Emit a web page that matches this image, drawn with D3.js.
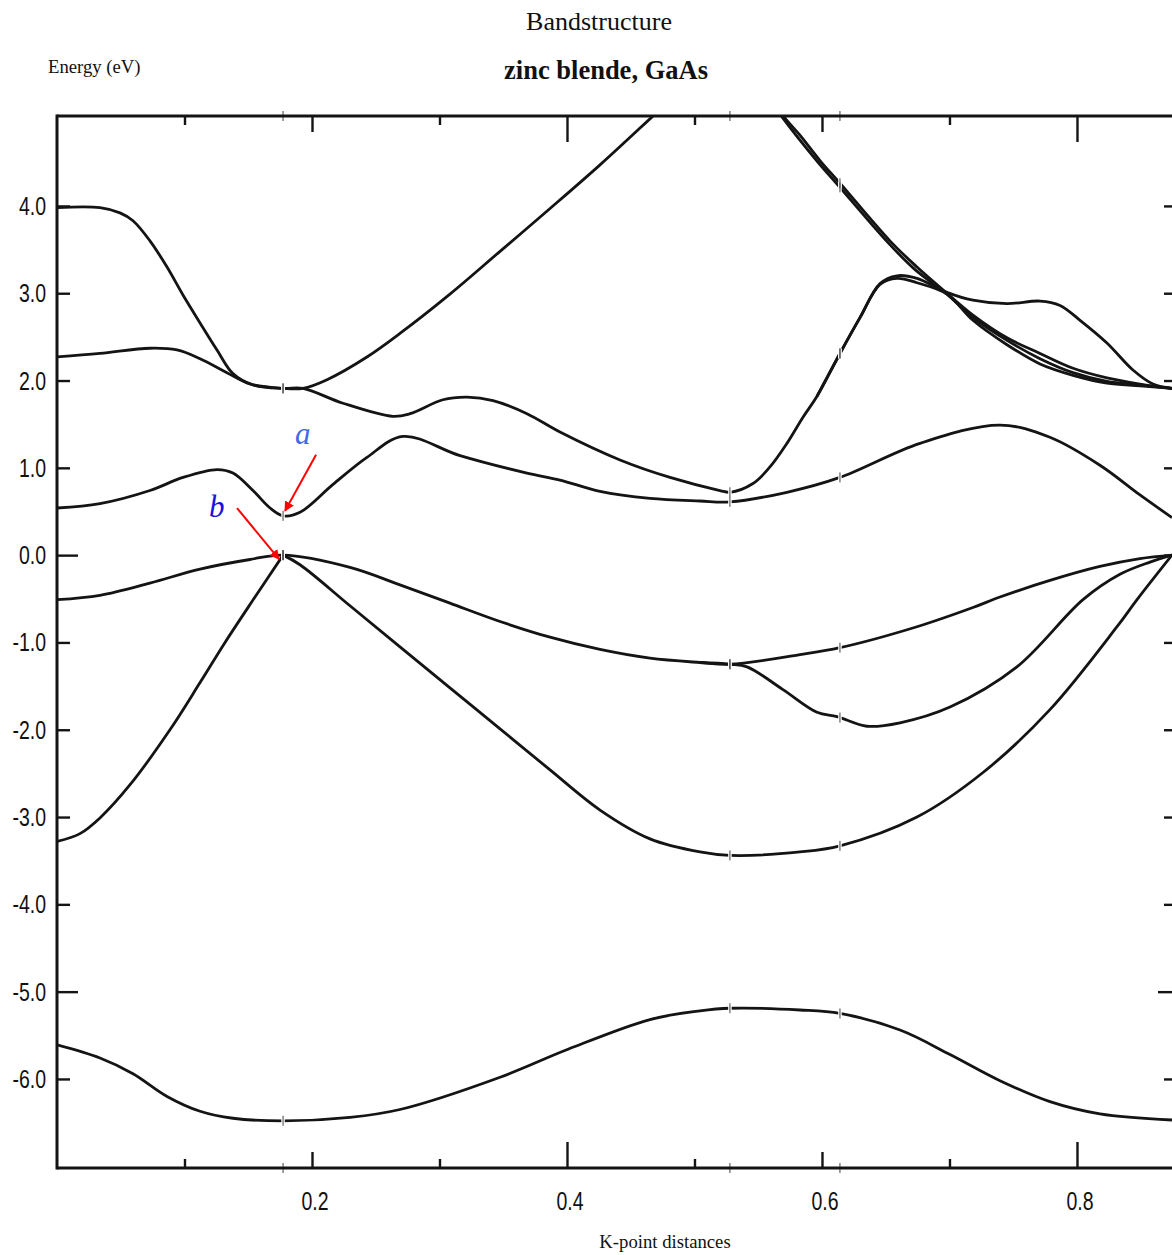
<!DOCTYPE html>
<html><head><meta charset="utf-8">
<script src="https://cdn.jsdelivr.net/npm/d3@7"></script>
<style>
html,body{margin:0;padding:0;background:#fff;}
svg{display:block;}
</style></head><body>
<svg id="chart" width="1172" height="1255"></svg>
<script>
// High-symmetry points along the path (Γ, X, and the zone-edge point past X)
const symK = [0.1773, 0.5278, 0.6141];

const yTicks = [4, 3, 2, 1, 0, -1, -2, -3, -4, -5, -6];
const yTickLabels = ["4.0", "3.0", "2.0", "1.0", "0.0", "-1.0", "-2.0", "-3.0", "-4.0", "-5.0", "-6.0"];
const xTicks = [0.1, 0.2, 0.3, 0.4, 0.5, 0.6, 0.7, 0.8];
const xTickLabels = ["", "0.2", "", "0.4", "", "0.6", "", "0.8"];

// Band energies (eV) against k-point distance
const bandS = [[0,-5.61],[0.0337,-5.76],[0.0596,-5.94],[0.0863,-6.20],[0.1122,-6.37],[0.1380,-6.45],[0.1773,-6.48],
  [0.2298,-6.44],[0.2690,-6.35],[0.3475,-5.98],[0.4008,-5.66],[0.4651,-5.32],[0.5043,-5.22],[0.5278,-5.19],
  [0.5827,-5.21],[0.6141,-5.25],[0.6612,-5.44],[0.7004,-5.72],[0.7396,-6.02],[0.7788,-6.26],[0.8180,-6.40],[0.8745,-6.47]];

const bandV1a = [[0,-3.28],[0.0180,-3.19],[0.0337,-3.01],[0.0573,-2.63],[0.0886,-2.00],[0.1122,-1.46],[0.1318,-1.00],
  [0.1553,-0.48],[0.1773,0]];

const bandV1b = [[0.1773,0],[0.1906,-0.11],[0.2298,-0.58],[0.2690,-1.05],[0.3082,-1.52],[0.3475,-1.99],[0.3867,-2.46],
  [0.4259,-2.92],[0.4651,-3.25],[0.5043,-3.40],[0.5278,-3.44],[0.5827,-3.40],[0.6141,-3.33],[0.6745,-3.00],
  [0.7263,-2.49],[0.7788,-1.77],[0.8314,-0.82],[0.8471,-0.51],[0.8745,0]];

const bandV2 = [[0,-0.51],[0.0337,-0.46],[0.0729,-0.32],[0.1122,-0.16],[0.1514,-0.05],[0.1773,0],[0.2298,-0.14],
  [0.2690,-0.34],[0.3082,-0.55],[0.3475,-0.76],[0.3867,-0.94],[0.4259,-1.08],[0.4651,-1.18],[0.5043,-1.23],[0.5278,-1.25],
  [0.5827,-1.14],[0.6141,-1.06],[0.6745,-0.82],[0.7184,-0.60],[0.7396,-0.48],[0.7788,-0.29],[0.8180,-0.13],[0.8494,-0.04],[0.8745,0]];

const bandV2b = [[0.5043,-1.23],[0.5278,-1.25],[0.5412,-1.28],[0.5694,-1.54],[0.5961,-1.80],[0.6118,-1.85],[0.6353,-1.96],
  [0.6612,-1.92],[0.7004,-1.74],[0.7529,-1.28],[0.8047,-0.51],[0.8337,-0.22],[0.8573,-0.08],[0.8745,0]];

const bandC1 = [[0,0.54],[0.0337,0.59],[0.0729,0.74],[0.0988,0.89],[0.1255,0.98],[0.1380,0.94],[0.1537,0.74],[0.1671,0.54],
  [0.1773,0.45],[0.1906,0.49],[0.2165,0.81],[0.2431,1.12],[0.2714,1.36],[0.3161,1.14],[0.3686,0.94],[0.3945,0.86],
  [0.4259,0.73],[0.4651,0.65],[0.5043,0.62],[0.5278,0.61],[0.5725,0.72],[0.6141,0.89],[0.6769,1.28],[0.7396,1.49],
  [0.7788,1.35],[0.8180,1.03],[0.8494,0.69],[0.8745,0.43]];

const bandC2 = [[0,2.27],[0.0337,2.31],[0.0729,2.37],[0.0941,2.35],[0.1122,2.25],[0.1333,2.09],[0.1514,1.96],[0.1773,1.91],
  [0.1929,1.91],[0.2243,1.74],[0.2635,1.59],[0.2769,1.62],[0.3027,1.78],[0.3216,1.81],[0.3420,1.77],[0.3686,1.62],
  [0.3945,1.41],[0.4416,1.09],[0.4808,0.89],[0.5200,0.74],[0.5278,0.72],[0.5459,0.82],[0.5592,1.01],[0.5725,1.28],
  [0.5851,1.58],[0.5961,1.82],[0.6141,2.31],[0.6298,2.72],[0.6455,3.11],[0.6588,3.20],[0.6745,3.17],[0.6980,3.01],
  [0.7184,2.92],[0.7451,2.88],[0.7710,2.91],[0.7867,2.86],[0.8024,2.69],[0.8235,2.43],[0.8439,2.12],[0.8596,1.96],[0.8745,1.91]];

const bandC3 = [[0,3.98],[0.0337,3.98],[0.0494,3.92],[0.0596,3.83],[0.0729,3.60],[0.0863,3.30],[0.0988,2.98],[0.1122,2.66],
  [0.1255,2.35],[0.1380,2.08],[0.1537,1.95],[0.1773,1.91],[0.1929,1.91],[0.2118,2.01],[0.2431,2.27],[0.2690,2.54],
  [0.3082,2.99],[0.3475,3.48],[0.3867,3.97],[0.4259,4.47],[0.4667,5.02],[0.4902,5.34]];

const bandC4 = [[0.5569,5.30],[0.5702,5.02],[0.5827,4.81],[0.5984,4.52],[0.6141,4.26],[0.6533,3.60],[0.6745,3.30],[0.6980,3.00],
  [0.7184,2.75],[0.7451,2.49],[0.7710,2.31],[0.7969,2.14],[0.8235,2.03],[0.8494,1.96],[0.8745,1.91]];

const bandC5 = [[0.5553,5.30],[0.5686,5.02],[0.5969,4.50],[0.6125,4.24],[0.6518,3.58],[0.6730,3.27],[0.6980,2.99],
  [0.7184,2.72],[0.7451,2.46],[0.7710,2.25],[0.7969,2.09],[0.8235,1.99],[0.8494,1.95],[0.8745,1.91]];

const bandC6 = [[0.5961,1.82],[0.6141,2.31],[0.6298,2.72],[0.6455,3.10],[0.6588,3.17],[0.6745,3.12],[0.6980,2.99],
  [0.7184,2.69],[0.7451,2.41],[0.7710,2.19],[0.7969,2.06],[0.8235,1.97],[0.8494,1.94],[0.8745,1.91]];

const bands = [bandS, bandV1a, bandV1b, bandV2, bandV2b, bandC1, bandC2, bandC3, bandC4, bandC5, bandC6];

// Band-gap markers
const gapEdges = {conduction: 0.45, valence: 0};

const W = 1172, H = 1255;
const plot = {left: 57, right: 1172.6, top: 116, bottom: 1168};

const svg = d3.select("#chart");
const x = d3.scaleLinear().domain([0, 0.875]).range([plot.left, plot.right]);
const y = d3.scaleLinear().domain([-7.02, 5.03]).range([plot.bottom, plot.top]);

const ink = "#141414";
const serif = "'Liberation Serif', 'Times New Roman', serif";
const narrow = "'Liberation Sans', Arial, sans-serif";

svg.append("rect").attr("width", W).attr("height", H).attr("fill", "#fff");

svg.append("defs").append("clipPath").attr("id", "plotClip")
  .append("rect").attr("x", plot.left).attr("y", plot.top)
  .attr("width", plot.right - plot.left).attr("height", plot.bottom - plot.top);

// Bands
const line = d3.line().x(d => x(d[0])).y(d => y(d[1])).curve(d3.curveCatmullRom.alpha(0.5));
const gBands = svg.append("g").attr("clip-path", "url(#plotClip)");
gBands.selectAll("path.band").data(bands).join("path")
  .attr("class", "band")
  .attr("d", line)
  .attr("fill", "none")
  .attr("stroke", ink)
  .attr("stroke-width", 2.8)
  .attr("stroke-linejoin", "round");

// Little breaks where the band segments join at the symmetry points
function energyAt(band, k) {
  for (let i = 0; i < band.length - 1; i++) {
    const a = band[i], b = band[i + 1];
    if (k >= a[0] && k <= b[0]) {
      const t = b[0] === a[0] ? 0 : (k - a[0]) / (b[0] - a[0]);
      return a[1] + t * (b[1] - a[1]);
    }
  }
  return null;
}
const marks = [];
bands.forEach(b => symK.forEach(k => {
  const e = energyAt(b, k);
  if (e !== null && e > -7 && e < 5) marks.push([k, e]);
}));
symK.forEach(k => { marks.push([k, 5.03]); marks.push([k, -7.02]); });
const gMarks = svg.append("g");
gMarks.selectAll("line.gap").data(marks).join("line")
  .attr("class", "gap")
  .attr("x1", d => x(d[0])).attr("x2", d => x(d[0]))
  .attr("y1", d => y(d[1]) - 5).attr("y2", d => y(d[1]) + 5)
  .attr("stroke", "#fff").attr("stroke-width", 3.5);
gMarks.selectAll("line.tickmark").data(marks).join("line")
  .attr("class", "tickmark")
  .attr("x1", d => x(d[0])).attr("x2", d => x(d[0]))
  .attr("y1", d => y(d[1]) - 5).attr("y2", d => y(d[1]) + 5)
  .attr("stroke", "#444").attr("stroke-width", 1);

// Frame
const frame = svg.append("g").attr("stroke", ink).attr("stroke-width", 3).attr("fill", "none");
frame.append("line").attr("x1", plot.left).attr("x2", plot.left).attr("y1", plot.top - 1.5).attr("y2", plot.bottom + 1.5);
frame.append("line").attr("x1", plot.left).attr("x2", W).attr("y1", plot.top).attr("y2", plot.top);
frame.append("line").attr("x1", plot.left).attr("x2", W).attr("y1", plot.bottom).attr("y2", plot.bottom);

// Tick lengths: long at 0.4 / 0.8, medium at 0.2 / 0.6, short otherwise
const xTickLen = d => {
  const n = Math.round(d * 10);
  return n % 4 === 0 ? 26 : (n % 2 === 0 ? 16 : 9);
};
const yTickLen = d => (d === 0 || d === -5) ? 21 : 13;

function styleAxis(g) {
  g.select(".domain").remove();
  g.selectAll(".tick line").attr("stroke", ink).attr("stroke-width", 2.4);
  g.selectAll(".tick text").remove();
}

const topAxis = svg.append("g").attr("transform", `translate(0,${plot.top})`)
  .call(d3.axisBottom(x).tickValues(xTicks).tickFormat(""));
styleAxis(topAxis);
topAxis.selectAll(".tick line").attr("y2", d => xTickLen(d));

const bottomAxis = svg.append("g").attr("transform", `translate(0,${plot.bottom})`)
  .call(d3.axisTop(x).tickValues(xTicks).tickFormat(""));
styleAxis(bottomAxis);
bottomAxis.selectAll(".tick line").attr("y2", d => -xTickLen(d));

const leftAxis = svg.append("g").attr("transform", `translate(${plot.left},0)`)
  .call(d3.axisRight(y).tickValues(yTicks).tickFormat(""));
styleAxis(leftAxis);
leftAxis.selectAll(".tick line").attr("x2", d => yTickLen(d));

const rightAxis = svg.append("g").attr("transform", `translate(${W},0)`)
  .call(d3.axisLeft(y).tickValues(yTicks).tickFormat(""));
styleAxis(rightAxis);
rightAxis.selectAll(".tick line").attr("x2", d => d === -5 ? -14 : -8);

// Tick labels (tall, condensed figures)
svg.append("g").selectAll("text").data(yTicks).join("text")
  .attr("transform", d => `translate(46,${y(d)}) scale(0.78,1)`)
  .attr("dy", "0.36em")
  .attr("text-anchor", "end")
  .attr("font-family", narrow).attr("font-size", 25).attr("fill", "#111")
  .text((d, i) => yTickLabels[i]);

svg.append("g").selectAll("text").data(xTicks.filter((d, i) => xTickLabels[i] !== "")).join("text")
  .attr("transform", d => `translate(${x(d) + 3},1210) scale(0.78,1)`)
  .attr("text-anchor", "middle")
  .attr("font-family", narrow).attr("font-size", 25).attr("fill", "#111")
  .text(d => xTickLabels[xTicks.indexOf(d)]);

// Titles and axis captions
svg.append("text").attr("x", 599).attr("y", 30).attr("text-anchor", "middle")
  .attr("font-family", serif).attr("font-size", 26).attr("fill", "#111").text("Bandstructure");
svg.append("text").attr("x", 606).attr("y", 79).attr("text-anchor", "middle")
  .attr("font-family", serif).attr("font-size", 26.5).attr("font-weight", "bold").attr("fill", "#111").text("zinc blende, GaAs");
svg.append("text").attr("x", 48).attr("y", 73)
  .attr("font-family", serif).attr("font-size", 18.7).attr("fill", "#111").text("Energy (eV)");
svg.append("text").attr("x", 665).attr("y", 1248).attr("text-anchor", "middle")
  .attr("font-family", serif).attr("font-size", 18.7).attr("fill", "#111").text("K-point distances");

// Annotations: conduction-band minimum (a) and valence-band maximum (b) at Γ
const defs = svg.select("defs");
defs.append("marker").attr("id", "arrowRed").attr("viewBox", "0 0 10 10")
  .attr("refX", 9).attr("refY", 5).attr("markerWidth", 5).attr("markerHeight", 5)
  .attr("orient", "auto-start-reverse").attr("markerUnits", "strokeWidth")
  .append("path").attr("d", "M0,0 L10,5 L0,10 z").attr("fill", "#ff0000");

const gx = x(symK[0]);
const ya = y(gapEdges.conduction), yb = y(gapEdges.valence);

svg.append("line").attr("x1", gx + 33).attr("y1", ya - 61).attr("x2", gx + 2).attr("y2", ya - 5)
  .attr("stroke", "#ff0000").attr("stroke-width", 2).attr("marker-end", "url(#arrowRed)");
svg.append("line").attr("x1", gx - 46).attr("y1", yb - 47).attr("x2", gx - 4).attr("y2", yb + 4)
  .attr("stroke", "#ff0000").attr("stroke-width", 2).attr("marker-end", "url(#arrowRed)");

svg.append("text").attr("x", gx + 12).attr("y", ya - 72)
  .attr("font-family", serif).attr("font-style", "italic").attr("font-size", 31)
  .attr("fill", "#4169e6").text("a");
svg.append("text").attr("x", gx - 74).attr("y", yb - 38)
  .attr("font-family", serif).attr("font-style", "italic").attr("font-size", 31)
  .attr("fill", "#1414e0").text("b");
</script>
</body></html>
